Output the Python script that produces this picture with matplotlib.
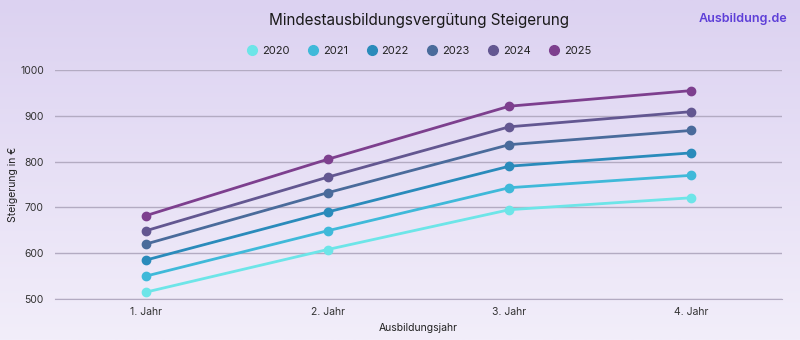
import matplotlib
matplotlib.use("Agg")
import matplotlib.pyplot as plt
from matplotlib.lines import Line2D
import numpy as np

plt.rcParams['font.family'] = ['Inter', 'DejaVu Sans']

categories = ["1. Jahr", "2. Jahr", "3. Jahr", "4. Jahr"]
series_names = ["2020", "2021", "2022", "2023", "2024", "2025"]
v2020 = [515, 608, 695, 721]
v2021 = [550, 649, 743, 770]
v2022 = [585, 690, 790, 819]
v2023 = [620, 732, 837, 868]
v2024 = [649, 766, 876, 909]
v2025 = [682, 805, 921, 955]
series_values = [v2020, v2021, v2022, v2023, v2024, v2025]
colors = ["#6de5e8", "#3fb9d9", "#2a8bbb", "#4a6b9b", "#635791", "#7d3f8e"]
y_ticks = [500, 600, 700, 800, 900, 1000]

fig = plt.figure(figsize=(8, 3.4), dpi=100)

# gradient background
bg = fig.add_axes([0, 0, 1, 1], zorder=-10)
top = np.array([220, 210, 241]) / 255
bot = np.array([242, 238, 250]) / 255
t = np.linspace(0, 1, 256)[:, None]
grad = (top[None, :] * (1 - t) + bot[None, :] * t)[:, None, :]
bg.imshow(grad, aspect='auto', extent=[0, 1, 0, 1])
bg.axis('off')

ax = fig.add_axes([55/800, 1 - 299/340, 727/800, 229/340])
ax.patch.set_alpha(0)
x = np.arange(len(categories))
for name, vals, c in zip(series_names, series_values, colors):
    ax.plot(x, vals, color=c, lw=2.0, marker='o', ms=6, zorder=3, label=name,
            clip_on=False)

ax.set_xlim(-0.5, 3.5)
ax.set_ylim(500, 1000)
ax.set_yticks(y_ticks)
ax.set_xticks(x)
ax.set_xticklabels(categories)
ax.grid(axis='y', color='#b3abc2', lw=1.0)
ax.set_axisbelow(True)
for s in ['top', 'right', 'left']:
    ax.spines[s].set_visible(False)
ax.spines['bottom'].set_color('#b3abc2')
ax.tick_params(axis='both', length=0, labelsize=7.5, colors='#333333')
ax.tick_params(axis='y', pad=8)
ax.tick_params(axis='x', pad=6)
ax.set_xlabel("Ausbildungsjahr", fontsize=7.5, color='#222222', labelpad=4)
ax.yaxis.set_label_coords(-37/727, 0.5)
ax.set_ylabel("Steigerung in €", fontsize=7.5, color='#222222')

fig.text(419/800, 1 - 20/340, "Mindestausbildungsvergütung Steigerung",
         ha='center', va='center', fontsize=11, color='#1a1a1a')
fig.text(787/800, 1 - 19/340, "Ausbildung.de", ha='right', va='center',
         fontsize=9, fontweight='semibold', color='#5e3fd8')

handles = [Line2D([], [], marker='o', ls='none', ms=7, color=c) for c in colors]
fig.legend(handles, series_names, loc='center', bbox_to_anchor=(419/800, 1 - 51/340),
           ncol=6, frameon=False, fontsize=8, handletextpad=0.4,
           columnspacing=1.6, handlelength=1.0, labelcolor='#222222')

fig.savefig("out.png", dpi=100)
